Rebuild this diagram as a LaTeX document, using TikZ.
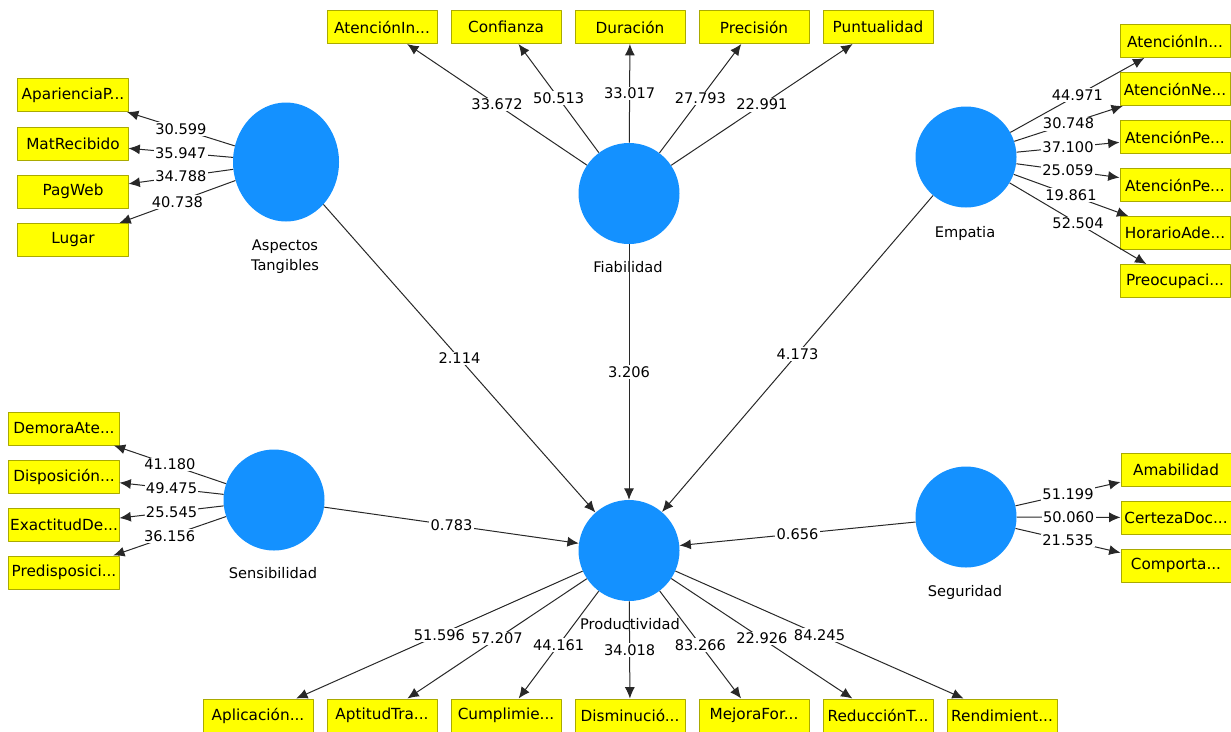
\documentclass[tikz,border=0pt]{standalone}
\usepackage{fontspec}
\setmainfont{DejaVu Sans}
\usetikzlibrary{arrows.meta,shapes.geometric}
\definecolor{lvblue}{RGB}{20,145,255}
\definecolor{mvfill}{RGB}{255,255,0}
\definecolor{mvline}{RGB}{170,170,0}
\definecolor{pathcol}{RGB}{40,40,40}
\tikzset{
  latent/.style={circle,fill=lvblue,inner sep=0pt,minimum size=75.75bp},
  indicator/.style={rectangle,draw=mvline,fill=mvfill,line width=0.75bp,inner sep=0pt,
    minimum width=82.5bp,minimum height=24.75bp,font=\fontsize{11.5}{13}\selectfont},
  lvname/.style={align=center,inner sep=0pt,font=\fontsize{11}{15}\selectfont},
  weight/.style={fill=white,inner sep=1bp,font=\fontsize{11}{13}\selectfont},
  path/.style={->,draw=pathcol,line width=0.75bp},
}
\begin{document}
\begin{tikzpicture}[x=0.75bp,y=-0.75bp,>={Latex[length=8.5bp,width=7.5bp]},line join=bevel]
  \useasboundingbox (0,0) rectangle (1231,731);
%%
  % Node: aspectos_tangibles
  \node[latent,ellipse,minimum width=79.5bp,minimum height=89.25bp] (asp) at (286,162) {};
  \node[lvname] (asp-l) at (285,257) {Aspectos\\Tangibles};
  % Node: fiabilidad
  \node[latent] (fia) at (629,193.5) {};
  \node[lvname] (fia-l) at (628,267) {Fiabilidad};
  % Node: empatia
  \node[latent] (emp) at (966,157) {};
  \node[lvname] (emp-l) at (965,233) {Empatia};
  % Node: sensibilidad
  \node[latent] (sen) at (274,500) {};
  \node[lvname] (sen-l) at (273,573) {Sensibilidad};
  % Node: seguridad
  \node[latent] (seg) at (966,517) {};
  \node[lvname] (seg-l) at (965,592) {Seguridad};
  % Node: productividad
  \node[latent] (pro) at (629,550.5) {};
  \node[lvname] (pro-l) at (630,624) {Productividad};
%%
  % Indicators: aspectos_tangibles
  \node[indicator] (apa) at (73,95) {AparienciaP...};
  \node[indicator] (mat) at (73,143.5) {MatRecibido};
  \node[indicator] (pag) at (73,191.5) {PagWeb};
  \node[indicator] (lug) at (73,240) {Lugar};
  % Indicators: fiabilidad
  \node[indicator] (ain) at (382,27) {AtenciónIn...};
  \node[indicator] (con) at (506,27) {Confianza};
  \node[indicator] (dur) at (630,27) {Duración};
  \node[indicator] (prc) at (754,27) {Precisión};
  \node[indicator] (pun) at (878,27) {Puntualidad};
  % Indicators: empatia
  \node[indicator] (ein) at (1175,41) {AtenciónIn...};
  \node[indicator] (ene) at (1175,89) {AtenciónNe...};
  \node[indicator] (epa) at (1175,137) {AtenciónPe...};
  \node[indicator] (epb) at (1175,185) {AtenciónPe...};
  \node[indicator] (hor) at (1175,233) {HorarioAde...};
  \node[indicator] (pre) at (1175,281) {Preocupaci...};
  % Indicators: sensibilidad
  \node[indicator] (dem) at (64,428.5) {DemoraAte...};
  \node[indicator] (dis) at (64,476.5) {Disposición...};
  \node[indicator] (exa) at (64,524.5) {ExactitudDe...};
  \node[indicator] (prd) at (64,572.5) {Predisposici...};
  % Indicators: seguridad
  \node[indicator] (ama) at (1176,469.5) {Amabilidad};
  \node[indicator] (cer) at (1176,517.5) {CertezaDoc...};
  \node[indicator] (com) at (1176,565.5) {Comporta...};
  % Indicators: productividad
  \node[indicator] (apl) at (258,715.5) {Aplicación...};
  \node[indicator] (apt) at (382,715.5) {AptitudTra...};
  \node[indicator] (cum) at (506,715.5) {Cumplimie...};
  \node[indicator] (dsm) at (630,715.5) {Disminució...};
  \node[indicator] (mej) at (754,715.5) {MejoraFor...};
  \node[indicator] (red) at (878,715.5) {ReducciónT...};
  \node[indicator] (ren) at (1002,715.5) {Rendimient...};
%%
  % Edge: inner model -> productividad
  \draw[path] (asp) -- node[weight] {2.114} (pro);
  \draw[path] (fia) -- node[weight] {3.206} (pro);
  \draw[path] (emp) -- node[weight] {4.173} (pro);
  \draw[path] (sen) -- node[weight] {0.783} (pro);
  \draw[path] (seg) -- node[weight] {0.656} (pro);
  % Edge: aspectos_tangibles -> indicators
  \draw[path] (asp) -- node[weight] {30.599} (apa);
  \draw[path] (asp) -- node[weight] {35.947} (mat);
  \draw[path] (asp) -- node[weight] {34.788} (pag);
  \draw[path] (asp) -- node[weight] {40.738} (lug);
  % Edge: fiabilidad -> indicators
  \draw[path] (fia) -- node[weight] {33.672} (ain);
  \draw[path] (fia) -- node[weight] {50.513} (con);
  \draw[path] (fia) -- node[weight] {33.017} (dur);
  \draw[path] (fia) -- node[weight] {27.793} (prc);
  \draw[path] (fia) -- node[weight] {22.991} (pun);
  % Edge: empatia -> indicators
  \draw[path] (emp) -- node[weight] {44.971} (ein);
  \draw[path] (emp) -- node[weight] {30.748} (ene);
  \draw[path] (emp) -- node[weight] {37.100} (epa);
  \draw[path] (emp) -- node[weight] {25.059} (epb);
  \draw[path] (emp) -- node[weight] {19.861} (hor);
  \draw[path] (emp) -- node[weight] {52.504} (pre);
  % Edge: sensibilidad -> indicators
  \draw[path] (sen) -- node[weight] {41.180} (dem);
  \draw[path] (sen) -- node[weight] {49.475} (dis);
  \draw[path] (sen) -- node[weight] {25.545} (exa);
  \draw[path] (sen) -- node[weight] {36.156} (prd);
  % Edge: seguridad -> indicators
  \draw[path] (seg) -- node[weight] {51.199} (ama);
  \draw[path] (seg) -- node[weight] {50.060} (cer);
  \draw[path] (seg) -- node[weight] {21.535} (com);
  % Edge: productividad -> indicators
  \draw[path] (pro) -- node[weight] {51.596} (apl);
  \draw[path] (pro) -- node[weight] {57.207} (apt);
  \draw[path] (pro) -- node[weight] {44.161} (cum);
  \draw[path] (pro) -- node[weight] {34.018} (dsm);
  \draw[path] (pro) -- node[weight] {83.266} (mej);
  \draw[path] (pro) -- node[weight] {22.926} (red);
  \draw[path] (pro) -- node[weight] {84.245} (ren);
%
\end{tikzpicture}
\end{document}
